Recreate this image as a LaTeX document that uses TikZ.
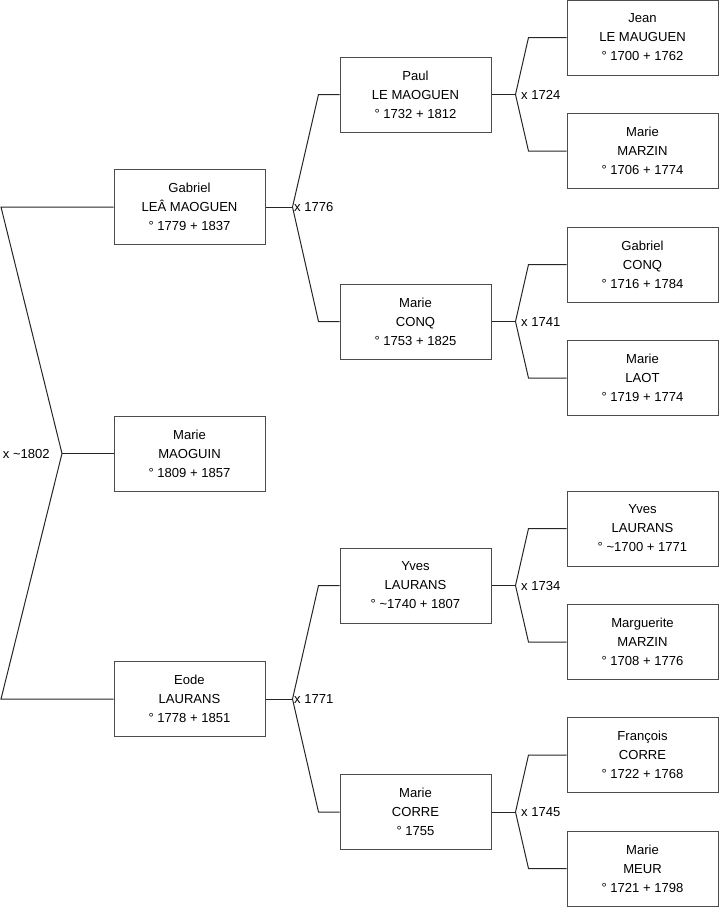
\documentclass[tikz,border=0pt]{standalone}
\usepackage{fontspec}
\setmainfont{Liberation Sans}

\begin{document}
\begin{tikzpicture}[x=0.75pt, y=-0.75pt,
    person/.style={draw=black!70, line width=0.75pt, minimum width=113.25pt,
      minimum height=56.25pt, inner sep=0pt, align=center,
      font=\fontsize{9.8}{14.25}\selectfont},
    wed/.style={font=\fontsize{9.8}{11}\selectfont, inner sep=1pt},
    link/.style={line width=0.75pt, black!85}]
  \useasboundingbox (0,0) rectangle (719,908);

  % children
  \node[person] (gabriel) at (189.5,207) {Gabriel\\LEÂ MAOGUEN\\° 1779 + 1837};
  \node[person] (marie) at (189.5,453.5) {Marie\\MAOGUIN\\° 1809 + 1857};
  \node[person] (eode) at (189.5,699) {Eode\\LAURANS\\° 1778 + 1851};
  % parents
  \node[person] (paul) at (415.5,94.5) {Paul\\LE MAOGUEN\\° 1732 + 1812};
  \node[person] (conq) at (415.5,321.5) {Marie\\CONQ\\° 1753 + 1825};
  \node[person] (yves) at (415.5,585.5) {Yves\\LAURANS\\° \textasciitilde1740 + 1807};
  \node[person] (corre) at (415.5,812) {Marie\\CORRE\\° 1755};
  % grandparents
  \node[person] (jean) at (642.5,37.5) {Jean\\LE MAUGUEN\\° 1700 + 1762};
  \node[person] (marzin) at (642.5,151) {Marie\\MARZIN\\° 1706 + 1774};
  \node[person] (gconq) at (642.5,264.5) {Gabriel\\CONQ\\° 1716 + 1784};
  \node[person] (laot) at (642.5,378) {Marie\\LAOT\\° 1719 + 1774};
  \node[person] (ylaurans) at (642.5,528.5) {Yves\\LAURANS\\° \textasciitilde1700 + 1771};
  \node[person] (marguerite) at (642.5,642) {Marguerite\\MARZIN\\° 1708 + 1776};
  \node[person] (francois) at (642.5,755) {François\\CORRE\\° 1722 + 1768};
  \node[person] (meur) at (642.5,868.5) {Marie\\MEUR\\° 1721 + 1798};

  % siblings
  \coordinate (f0) at (62,453.5);
  \coordinate (top) at (1,207);
  \coordinate (bot) at (1,699);
  \draw[link] (gabriel.west) -- (top) -- (f0) -- (bot) -- (eode.west);
  \draw[link] (f0) -- (marie.west);
  \node[wed, anchor=east, xshift=-8pt] at (f0) {x \textasciitilde1802};

  \foreach \c/\a/\b/\y in {gabriel/paul/conq/1776, eode/yves/corre/1771}{
    \coordinate (f-\c) at ([xshift=20.25pt]\c.east);
    \draw[link] (\c.east) -- (f-\c);
    \draw[link] (\a.west) -- ++(-15.75pt,0) -- (f-\c) -- ([xshift=-15.75pt]\b.west) -- (\b.west);
    \node[wed, anchor=west] at (f-\c) {x \y};
  }
  \foreach \c/\a/\b/\y in {paul/jean/marzin/1724, conq/gconq/laot/1741,
      yves/ylaurans/marguerite/1734, corre/francois/meur/1745}{
    \coordinate (f-\c) at ([xshift=18pt]\c.east);
    \draw[link] (\c.east) -- (f-\c);
    \draw[link] (\a.west) -- ++(-28.5pt,0) -- (f-\c) -- ([xshift=-28.5pt]\b.west) -- (\b.west);
    \node[wed, anchor=west, xshift=3pt] at (f-\c) {x \y};
  }
\end{tikzpicture}
\end{document}
